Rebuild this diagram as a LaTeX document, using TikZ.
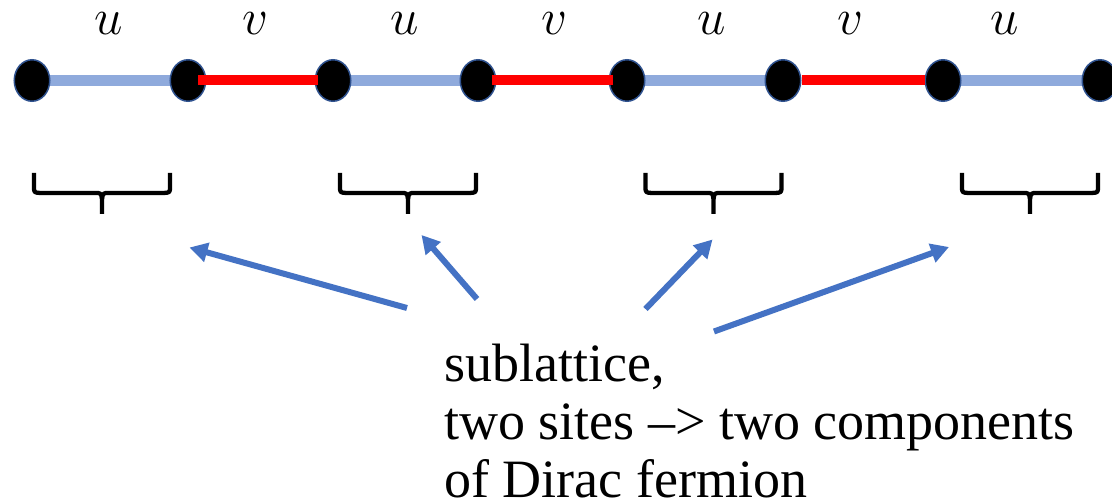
\RequirePackage{fix-cm}
\documentclass[tikz,border=0pt]{standalone}
\usepackage{fontspec}
\setmainfont{Liberation Serif}
\usetikzlibrary{shapes.geometric,arrows.meta,calc}
\definecolor{ublue}{HTML}{8FAADC}
\definecolor{vred}{HTML}{FF0000}
\definecolor{nodeedge}{HTML}{2F528F}
\definecolor{arrowblue}{HTML}{4472C4}
\pgfdeclarelayer{background}
\pgfsetlayers{background,main}
\tikzset{
  site/.style={ellipse, fill=black, draw=nodeedge, line width=1.5pt,
    minimum width=35.5pt, minimum height=41.5pt, inner sep=0pt},
  ubond/.style={draw=ublue, line width=10.5pt},
  vbond/.style={draw=vred, line width=10pt},
  hop/.style={font=\fontsize{51}{53}\selectfont, inner sep=0pt, anchor=base},
  pointer/.style={draw=arrowblue, line width=6pt, -{Triangle[length=18pt,width=19pt]}},
  bracket/.style={draw=black, line width=4.3pt, line join=round},
  caption/.style={font=\fontsize{54}{58}\selectfont, inner sep=0pt, anchor=base west},
}
\newcommand\subbrace[1]{%
  \draw[bracket] (#1-68,173) -- (#1-68,186) .. controls (#1-68,192.5) .. (#1-62,193)
     -- (#1-7,193) .. controls (#1-1,193) .. (#1,199) -- (#1,214);
  \draw[bracket] (#1+68,173) -- (#1+68,186) .. controls (#1+68,192.5) .. (#1+62,193)
     -- (#1+7,193) .. controls (#1+1,193) .. (#1,199);
}
\begin{document}
\begin{tikzpicture}[x=1pt,y=-1pt]
\useasboundingbox (0,0) rectangle (1112,502);

% sites
\node[site] (n1) at (32,80.5) {};
\node[site] (n2) at (188,80.5) {};
\node[site] (n3) at (333,80.5) {};
\node[site] (n4) at (478,80.5) {};
\node[site] (n5) at (627,80.5) {};
\node[site] (n6) at (783,80.5) {};
\node[site] (n7) at (943,80.5) {};
\node[site] (n8) at (1100,80.5) {};

% white page and u bonds (behind sites)
\begin{pgfonlayer}{background}
\fill[white] (0,0) rectangle (1112,502);
\draw[ubond] (n1.center) -- (n2.center);
\draw[ubond] (n3.center) -- (n4.center);
\draw[ubond] (n5.center) -- (n6.center);
\draw[ubond] (n7.center) -- (n8.center);
\end{pgfonlayer}

% v bonds (over sites)
\draw[vbond] ([xshift=-8.5pt]n2.east) -- ([xshift=3.5pt]n3.west);
\draw[vbond] ([xshift=-4.5pt]n4.east) -- ([xshift=4.5pt]n5.west);
\draw[vbond] (n6.east) -- (n7.west);

% hopping labels
\node[hop] (l1) at (109,35) {$u$};
\node[hop] (l2) at (255,35) {$v$};
\node[hop] (l3) at (405,35) {$u$};
\node[hop] (l4) at (554,35) {$v$};
\node[hop] (l5) at (712,35) {$u$};
\node[hop] (l6) at (850,35) {$v$};
\node[hop] (l7) at (1005,35) {$u$};

% braces
\subbrace{102}
\subbrace{408}
\subbrace{713.5}
\subbrace{1030}

% caption
\node[caption] (t1) at (444,382) {sublattice,};
\node[caption] (t2) at (444,440) {two sites –> two components};
\node[caption] (t3) at (444,497.5) {of Dirac fermion};

% arrows
\coordinate (a1s) at (407,308);   \coordinate (a1e) at (189.5,247.5);
\coordinate (a2s) at (477,299);   \coordinate (a2e) at (421.5,235);
\coordinate (a3s) at (645.5,309); \coordinate (a3e) at (712.5,239.5);
\coordinate (a4s) at (714,331.5); \coordinate (a4e) at (949,247);
\draw[pointer] (a1s) -- (a1e);
\draw[pointer] (a2s) -- (a2e);
\draw[pointer] (a3s) -- (a3e);
\draw[pointer] (a4s) -- (a4e);
\end{tikzpicture}
\end{document}
